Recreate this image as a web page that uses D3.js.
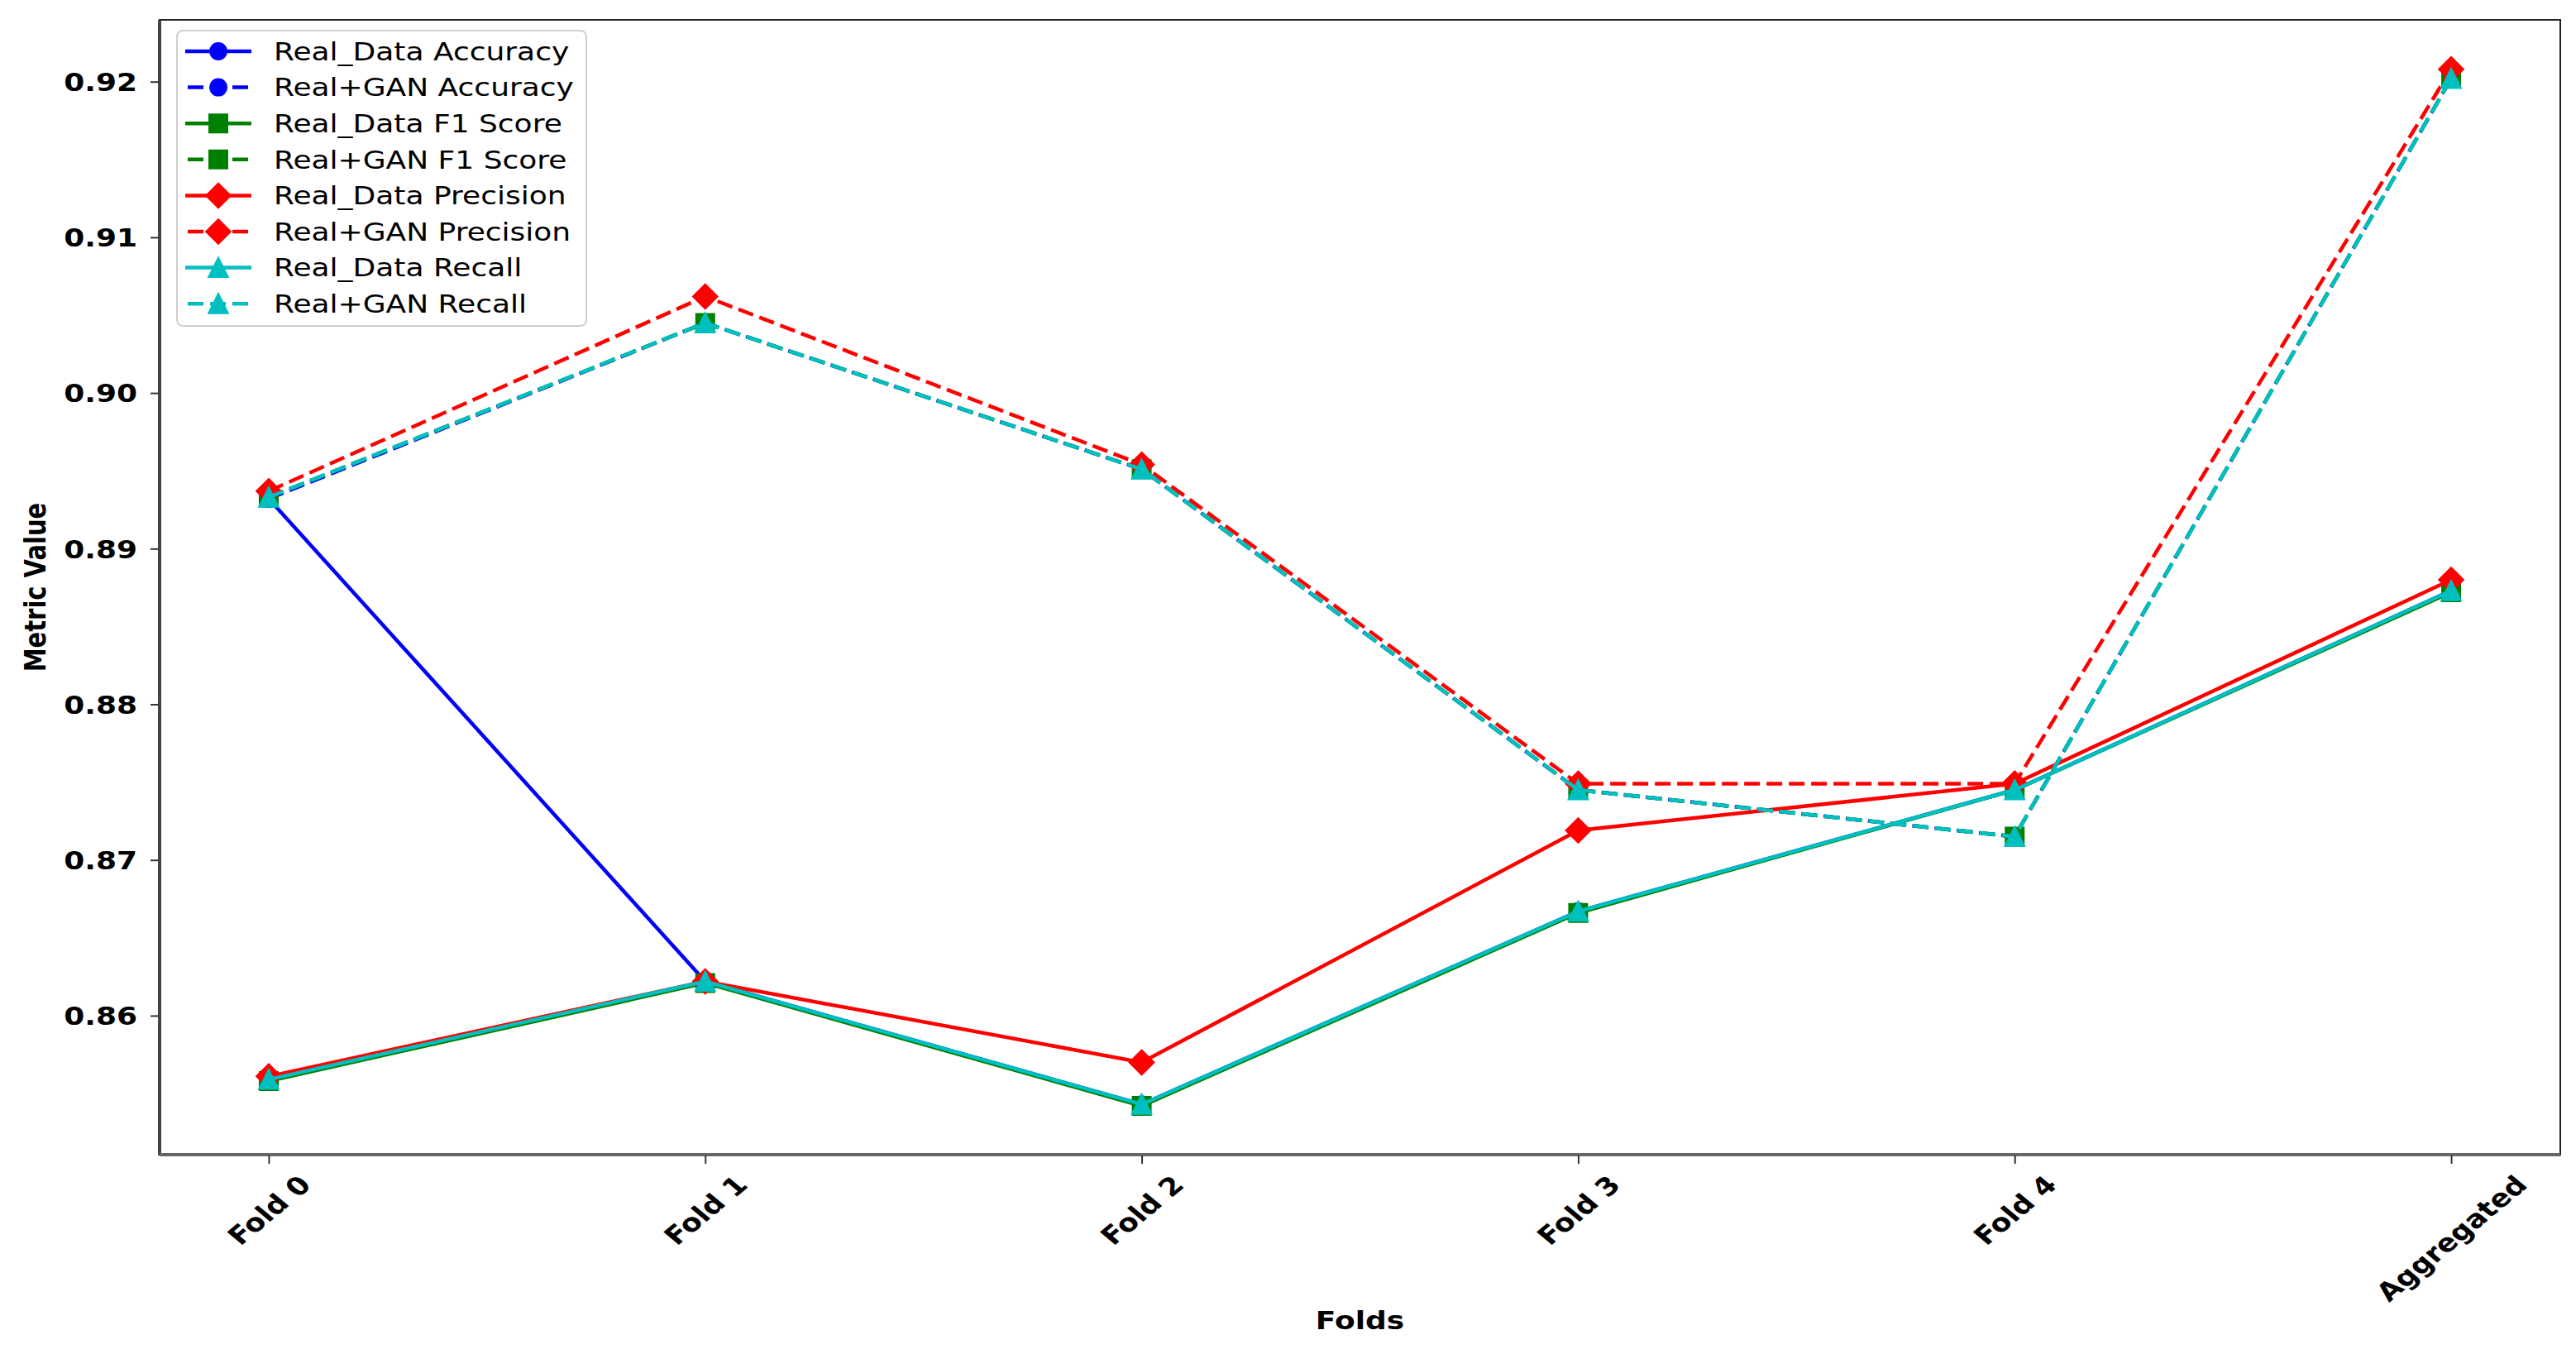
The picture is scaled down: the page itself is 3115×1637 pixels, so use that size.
<!DOCTYPE html>
<html>
<head>
<meta charset="utf-8">
<script src="https://cdn.jsdelivr.net/npm/d3@7"></script>
<style>
  body { margin: 0; background: #fff; }
  text { font-family: "DejaVu Sans", sans-serif; fill: #000; }
</style>
</head>
<body>
<svg id="chart" width="3115" height="1637"></svg>
<script>
// categories and values
var folds = ['Fold 0', 'Fold 1', 'Fold 2', 'Fold 3', 'Fold 4', 'Aggregated'];
var yTicks = [0.86, 0.87, 0.88, 0.89, 0.90, 0.91, 0.92];

var realAccuracy  = [0.8932, 0.8622, 0.8543, 0.8667, 0.8745, 0.8873];
var ganAccuracy   = [0.8932, 0.9045, 0.8951, 0.8745, 0.8715, 0.9202];
var realF1        = [0.8558, 0.8621, 0.8542, 0.8666, 0.8745, 0.8872];
var ganF1         = [0.8933, 0.9045, 0.8951, 0.8745, 0.8715, 0.9202];
var realPrecision = [0.8561, 0.8622, 0.8570, 0.8719, 0.8749, 0.8880];
var ganPrecision  = [0.8937, 0.9062, 0.8954, 0.8749, 0.8749, 0.9208];
var realRecall    = [0.8559, 0.8622, 0.8543, 0.8667, 0.8745, 0.8873];
var ganRecall     = [0.8933, 0.9045, 0.8951, 0.8745, 0.8715, 0.9202];

var series = [
  { name: 'Real_Data Accuracy', values: realAccuracy, color: '#0000ff', dashed: false, marker: 'circle' },
  { name: 'Real+GAN Accuracy', values: ganAccuracy, color: '#0000ff', dashed: true, marker: 'circle' },
  { name: 'Real_Data F1 Score', values: realF1, color: '#008000', dashed: false, marker: 'square' },
  { name: 'Real+GAN F1 Score', values: ganF1, color: '#008000', dashed: true, marker: 'square' },
  { name: 'Real_Data Precision', values: realPrecision, color: '#ff0000', dashed: false, marker: 'diamond' },
  { name: 'Real+GAN Precision', values: ganPrecision, color: '#ff0000', dashed: true, marker: 'diamond' },
  { name: 'Real_Data Recall', values: realRecall, color: '#00bfbf', dashed: false, marker: 'triangle' },
  { name: 'Real+GAN Recall', values: ganRecall, color: '#00bfbf', dashed: true, marker: 'triangle' }
];

var plot = { left: 193, right: 3096, top: 24, bottom: 1396 };
var stretch = 1.2; // the picture is a bit wider than tall, text too
var lineWidth = 4.5;
var dash = '19,8';

var svg = d3.select('#chart');

var x = d3.scaleLinear().domain([-0.25, folds.length - 0.75]).range([plot.left, plot.right]);
var y = d3.scaleLinear().domain([0.85107, 0.92397]).range([plot.bottom, plot.top]);

// marker shapes, centred on 0,0
function markerPath(type) {
  if (type === 'circle') return d3.symbol(d3.symbolCircle, Math.PI * 9.5 * 9.5)();
  if (type === 'square') return d3.symbol(d3.symbolSquare, 21 * 21)();
  if (type === 'diamond') return d3.symbol(d3.symbolSquare, 20 * 20)();
  var p = d3.path();
  p.moveTo(0, -11); p.lineTo(11, 11); p.lineTo(-11, 11); p.closePath();
  return p.toString();
}
function markerTransform(type, px, py) {
  return 'translate(' + px + ',' + py + ')' + (type === 'diamond' ? ' rotate(45)' : '');
}

// frame
svg.append('rect')
  .attr('x', plot.left).attr('y', plot.top)
  .attr('width', plot.right - plot.left).attr('height', plot.bottom - plot.top)
  .attr('fill', 'none').attr('stroke', '#222').attr('stroke-width', 2);
svg.append('line')
  .attr('x1', plot.left).attr('x2', plot.left).attr('y1', plot.top).attr('y2', plot.bottom + 1)
  .attr('stroke', '#444').attr('stroke-width', 4);
svg.append('line')
  .attr('x1', plot.left).attr('x2', plot.right).attr('y1', plot.bottom).attr('y2', plot.bottom)
  .attr('stroke', '#666').attr('stroke-width', 4);

// y axis
var yAxis = d3.axisLeft(y).tickValues(yTicks).tickFormat(d3.format('.2f')).tickSize(10).tickPadding(16);
var gy = svg.append('g').attr('transform', 'translate(' + (plot.left - 1) + ',0)').call(yAxis);
gy.select('.domain').remove();
gy.selectAll('.tick line').attr('stroke', '#333').attr('stroke-width', 2);
gy.selectAll('.tick text')
  .attr('font-size', 30).attr('font-weight', 'bold').attr('fill', '#000')
  .attr('dy', '0.36em')
  .attr('transform', 'scale(' + stretch + ',1)')
  .attr('x', -(26) / stretch);

// x axis
var xAxis = d3.axisBottom(x).tickValues(d3.range(folds.length)).tickFormat(function(i) { return folds[i]; }).tickSize(10);
var gx = svg.append('g').attr('transform', 'translate(0,' + (plot.bottom + 1) + ')').call(xAxis);
gx.select('.domain').remove();
gx.selectAll('.tick line').attr('stroke', '#333').attr('stroke-width', 2);
gx.selectAll('.tick text').each(function() {
  var t = d3.select(this)
    .attr('font-size', 30).attr('font-weight', 'bold').attr('fill', '#000')
    .attr('text-anchor', 'middle').attr('dy', '0.35em').attr('y', 0);
  var len = this.getComputedTextLength();
  var half = (len + 22) / Math.SQRT2 / 2;
  t.attr('transform', 'translate(0,' + (22 + half) + ') scale(' + stretch + ',1) rotate(-45)');
});

// axis labels
svg.append('text')
  .attr('transform', 'translate(' + (plot.left + plot.right) / 2 + ',1596) scale(' + stretch + ',1)')
  .attr('text-anchor', 'middle').attr('dy', '0.35em')
  .attr('font-size', 30).attr('font-weight', 'bold')
  .text('Folds');
svg.append('text')
  .attr('transform', 'translate(43,' + (plot.top + plot.bottom) / 2 + ') scale(' + stretch + ',1) rotate(-90)')
  .attr('text-anchor', 'middle').attr('dy', '0.35em')
  .attr('font-size', 29).attr('font-weight', 'bold')
  .text('Metric Value');

// lines and markers, drawn in legend order so cyan ends on top
var line = d3.line().x(function(d, i) { return x(i); }).y(function(d) { return y(d); });

series.forEach(function(s) {
  var g = svg.append('g').attr('class', 'series');
  g.append('path')
    .attr('d', line(s.values))
    .attr('fill', 'none')
    .attr('stroke', s.color)
    .attr('stroke-width', lineWidth)
    .attr('stroke-dasharray', s.dashed ? dash : null);
  g.selectAll('path.marker').data(s.values).enter().append('path')
    .attr('class', 'marker')
    .attr('d', markerPath(s.marker))
    .attr('transform', function(d, i) { return markerTransform(s.marker, x(i), y(d)); })
    .attr('fill', s.color)
    .attr('stroke', s.color)
    .attr('stroke-width', 3);
});

// legend
var legend = { x: 214, y: 37, width: 495, height: 357, rowTop: 62, rowStep: 43.6 };
svg.append('rect')
  .attr('x', legend.x).attr('y', legend.y)
  .attr('width', legend.width).attr('height', legend.height)
  .attr('rx', 7)
  .attr('fill', '#fff').attr('fill-opacity', 0.8)
  .attr('stroke', '#d0d0d0').attr('stroke-width', 2);

var rows = svg.selectAll('g.legend-row').data(series).enter().append('g')
  .attr('class', 'legend-row')
  .attr('transform', function(d, i) { return 'translate(0,' + (legend.rowTop + i * legend.rowStep) + ')'; });

rows.append('line')
  .attr('x1', 224).attr('x2', 304).attr('y1', 0).attr('y2', 0)
  .attr('stroke', function(d) { return d.color; })
  .attr('stroke-width', lineWidth)
  .attr('stroke-dasharray', function(d) { return d.dashed ? '19,8' : null; })
  .attr('stroke-dashoffset', function(d) { return d.dashed ? -3 : null; });
rows.append('path')
  .attr('d', function(d) { return markerPath(d.marker); })
  .attr('transform', function(d) { return markerTransform(d.marker, 264, 0); })
  .attr('fill', function(d) { return d.color; })
  .attr('stroke', function(d) { return d.color; })
  .attr('stroke-width', 3);
rows.append('text')
  .attr('transform', 'translate(331,0) scale(' + stretch + ',1)')
  .attr('dy', '0.36em')
  .attr('font-size', 30)
  .attr('fill', '#262626')
  .text(function(d) { return d.name; });
</script>
</body>
</html>
